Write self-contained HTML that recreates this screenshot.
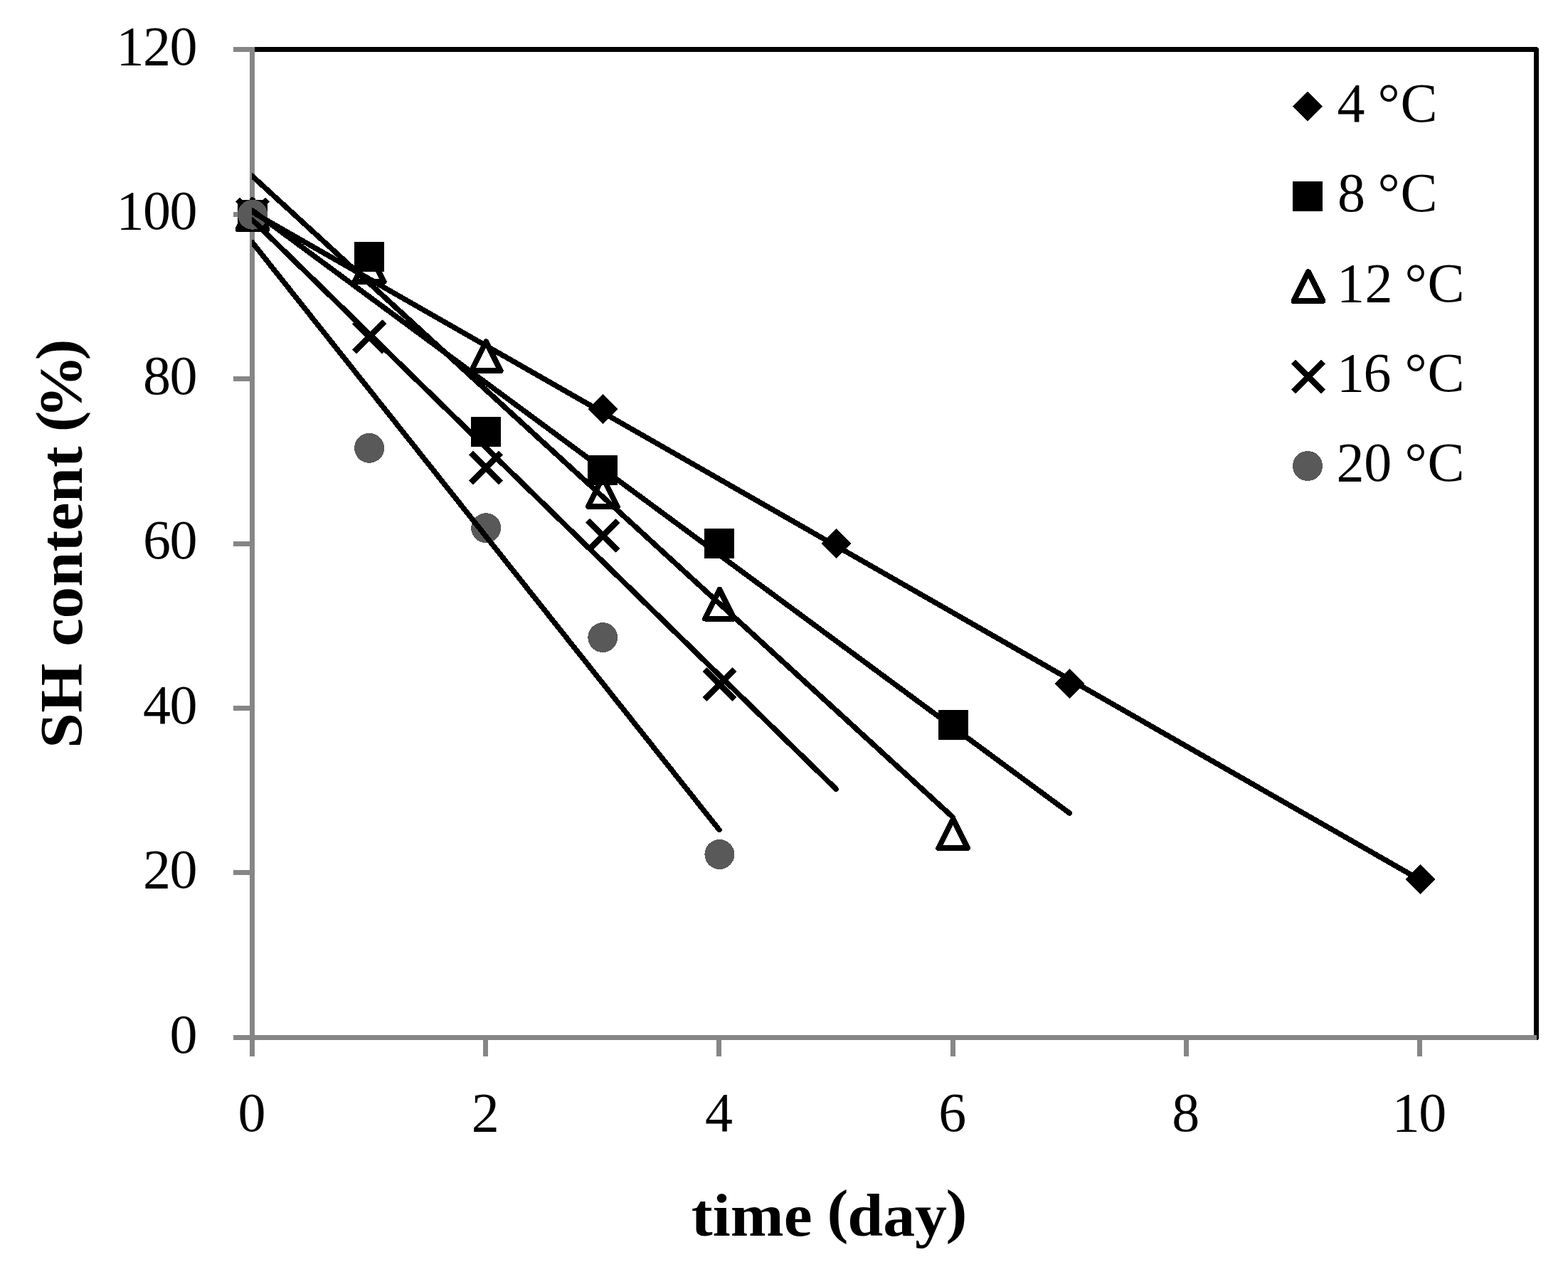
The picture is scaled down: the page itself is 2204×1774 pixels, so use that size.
<!DOCTYPE html>
<html lang="en">
<head>
<meta charset="utf-8">
<title>SH content vs time</title>
<style>
html,body{margin:0;padding:0;background:#fff;}
body{width:2204px;height:1774px;}
svg{display:block;}
text{font-family:"Liberation Serif","DejaVu Serif",serif;fill:#000;}
.b{font-weight:bold;}
</style>
</head>
<body>
<svg width="2204" height="1774" viewBox="0 0 2204 1774">
<rect x="0" y="0" width="2204" height="1774" fill="#fff"/>
<defs><clipPath id="plot"><rect x="354" y="66" width="1809" height="1396"/></clipPath></defs>

<g shape-rendering="crispEdges">
<rect x="354.5" y="69.5" width="1805" height="1389" fill="none" stroke="#000" stroke-width="7" stroke-linejoin="round"/>
<rect x="351" y="66" width="7" height="1419" fill="#868686"/>
<rect x="328" y="1455" width="1832" height="7" fill="#868686"/>
<rect x="328" y="1455" width="27" height="7" fill="#868686"/>
<rect x="328" y="1223" width="27" height="7" fill="#868686"/>
<rect x="328" y="992" width="27" height="7" fill="#868686"/>
<rect x="328" y="761" width="27" height="7" fill="#868686"/>
<rect x="328" y="529" width="27" height="7" fill="#868686"/>
<rect x="328" y="298" width="27" height="7" fill="#868686"/>
<rect x="328" y="66" width="27" height="7" fill="#868686"/>
<rect x="351" y="1455" width="7" height="30" fill="#868686"/>
<rect x="679" y="1455" width="7" height="30" fill="#868686"/>
<rect x="1007" y="1455" width="7" height="30" fill="#868686"/>
<rect x="1336" y="1455" width="7" height="30" fill="#868686"/>
<rect x="1664" y="1455" width="7" height="30" fill="#868686"/>
<rect x="1992" y="1455" width="7" height="30" fill="#868686"/>
</g>
<g shape-rendering="crispEdges">
<path d="M355.00 280.70L376.00 301.70L355.00 322.70L334.00 301.70Z" fill="#000"/>
<path d="M847.30 554.00L868.30 575.00L847.30 596.00L826.30 575.00Z" fill="#000"/>
<path d="M1175.50 743.20L1196.50 764.20L1175.50 785.20L1154.50 764.20Z" fill="#000"/>
<path d="M1503.70 939.80L1524.70 960.80L1503.70 981.80L1482.70 960.80Z" fill="#000"/>
<path d="M1996.00 1215.00L2017.00 1236.00L1996.00 1257.00L1975.00 1236.00Z" fill="#000"/>
<rect x="334.00" y="280.70" width="42" height="42" fill="#000"/>
<rect x="498.10" y="340.00" width="42" height="42" fill="#000"/>
<rect x="662.20" y="585.90" width="42" height="42" fill="#000"/>
<rect x="826.30" y="639.80" width="42" height="42" fill="#000"/>
<rect x="990.40" y="742.50" width="42" height="42" fill="#000"/>
<rect x="1318.60" y="998.00" width="42" height="42" fill="#000"/>
<path d="M355.00 281.20L375.50 322.20L334.50 322.20Z" fill="none" stroke="#000" stroke-width="7.8" stroke-linejoin="round"/>
<path d="M519.10 355.00L539.60 396.00L498.60 396.00Z" fill="none" stroke="#000" stroke-width="7.8" stroke-linejoin="round"/>
<path d="M683.20 480.25L703.70 521.25L662.70 521.25Z" fill="none" stroke="#000" stroke-width="7.8" stroke-linejoin="round"/>
<path d="M847.30 671.10L867.80 712.10L826.80 712.10Z" fill="none" stroke="#000" stroke-width="7.8" stroke-linejoin="round"/>
<path d="M1011.40 828.60L1031.90 869.60L990.90 869.60Z" fill="none" stroke="#000" stroke-width="7.8" stroke-linejoin="round"/>
<path d="M1339.60 1151.20L1360.10 1192.20L1319.10 1192.20Z" fill="none" stroke="#000" stroke-width="7.8" stroke-linejoin="round"/>
<svg x="330.00" y="278.00" width="50" height="47.4" viewBox="-25 -23.7 50 47.4" overflow="hidden"><path d="M-21.1 -21.1L21.1 21.1M-21.1 21.1L21.1 -21.1" fill="none" stroke="#000" stroke-width="8.5" stroke-linecap="butt"/></svg>
<svg x="494.10" y="449.50" width="50" height="47.4" viewBox="-25 -23.7 50 47.4" overflow="hidden"><path d="M-21.1 -21.1L21.1 21.1M-21.1 21.1L21.1 -21.1" fill="none" stroke="#000" stroke-width="8.5" stroke-linecap="butt"/></svg>
<svg x="658.20" y="633.80" width="50" height="47.4" viewBox="-25 -23.7 50 47.4" overflow="hidden"><path d="M-21.1 -21.1L21.1 21.1M-21.1 21.1L21.1 -21.1" fill="none" stroke="#000" stroke-width="8.5" stroke-linecap="butt"/></svg>
<svg x="822.30" y="729.20" width="50" height="47.4" viewBox="-25 -23.7 50 47.4" overflow="hidden"><path d="M-21.1 -21.1L21.1 21.1M-21.1 21.1L21.1 -21.1" fill="none" stroke="#000" stroke-width="8.5" stroke-linecap="butt"/></svg>
<svg x="986.40" y="938.30" width="50" height="47.4" viewBox="-25 -23.7 50 47.4" overflow="hidden"><path d="M-21.1 -21.1L21.1 21.1M-21.1 21.1L21.1 -21.1" fill="none" stroke="#000" stroke-width="8.5" stroke-linecap="butt"/></svg>
<circle cx="355.00" cy="301.70" r="21" fill="#595959"/>
<circle cx="519.10" cy="629.80" r="21" fill="#595959"/>
<circle cx="683.20" cy="742.20" r="21" fill="#595959"/>
<circle cx="847.30" cy="896.10" r="21" fill="#595959"/>
<circle cx="1011.40" cy="1201.00" r="21" fill="#595959"/>
</g>
<g clip-path="url(#plot)" fill="none" stroke="#000" stroke-width="7.5" stroke-linecap="round" shape-rendering="crispEdges">
<path d="M354.50 298.02L1995.50 1236.49"/>
<path d="M354.50 295.69L1503.20 1142.93"/>
<path d="M354.50 247.46L1339.10 1148.52"/>
<path d="M354.50 308.91L1175.00 1109.06"/>
<path d="M354.50 340.55L1010.90 1166.51"/>
</g>
<g font-size="78" text-anchor="end" letter-spacing="-1.5">
<text x="276.0" y="1479.6">0</text>
<text x="276.0" y="1248.1">20</text>
<text x="276.0" y="1016.6">40</text>
<text x="276.0" y="785.1">60</text>
<text x="276.0" y="553.6">80</text>
<text x="276.0" y="322.1">100</text>
<text x="276.0" y="90.6">120</text>
</g>
<g font-size="78" text-anchor="middle" letter-spacing="-1.5">
<text x="353.3" y="1590.4">0</text>
<text x="681.5" y="1590.4">2</text>
<text x="1009.7" y="1590.4">4</text>
<text x="1337.9" y="1590.4">6</text>
<text x="1666.1" y="1590.4">8</text>
<text x="1994.3" y="1590.4">10</text>
</g>
<g shape-rendering="crispEdges">
<path d="M1838.00 128.80L1859.00 149.80L1838.00 170.80L1817.00 149.80Z" fill="#000"/>
<rect x="1817.00" y="254.50" width="42" height="42" fill="#000"/>
<path d="M1839.00 382.10L1859.50 423.10L1818.50 423.10Z" fill="none" stroke="#000" stroke-width="7.8" stroke-linejoin="round"/>
<svg x="1814.00" y="505.70" width="50" height="47.4" viewBox="-25 -23.7 50 47.4" overflow="hidden"><path d="M-21.1 -21.1L21.1 21.1M-21.1 21.1L21.1 -21.1" fill="none" stroke="#000" stroke-width="8.5" stroke-linecap="butt"/></svg>
<circle cx="1838.00" cy="655.00" r="21" fill="#595959"/>
</g>
<g font-size="78">
<text x="1879.4 1917.0 1936.6 1968.5" y="171.1" xml:space="preserve">4 °C</text>
<text x="1880.1 1917.0 1936.6 1968.5" y="297.2" xml:space="preserve">8 °C</text>
<text x="1878.9 1918.5 1955.0 1974.5 2006.5" y="423.7" xml:space="preserve">12 °C</text>
<text x="1878.9 1916.5 1955.0 1974.5 2006.5" y="549.7" xml:space="preserve">16 °C</text>
<text x="1878.6 1917.2 1955.0 1974.5 2006.5" y="676.1" xml:space="preserve">20 °C</text>
</g>
<text class="b" font-size="85" transform="scale(1.058 1)" x="918.38 946.76 970.43 1041.42 1083.18 1098.87 1125.96 1173.15 1215.58 1256.57" y="1737.00 1737.00 1737.00 1737.00 1737.00 1731.44 1737.00 1737.00 1737.00 1731.44" xml:space="preserve">time (day)</text>
<text class="b" font-size="85" transform="translate(0 1774) rotate(-90) scale(1.048 1)" x="689.24 736.88 807.25 825.54 863.17 905.56 952.72 980.96 1018.59 1065.74 1099.24 1113.35 1131.70 1209.77" y="115.20 115.20 115.20 115.30 115.30 115.30 115.30 115.30 115.30 115.30 115.30 109.49 113.70 109.49" xml:space="preserve">SH content (%)</text>
</svg>
</body>
</html>
